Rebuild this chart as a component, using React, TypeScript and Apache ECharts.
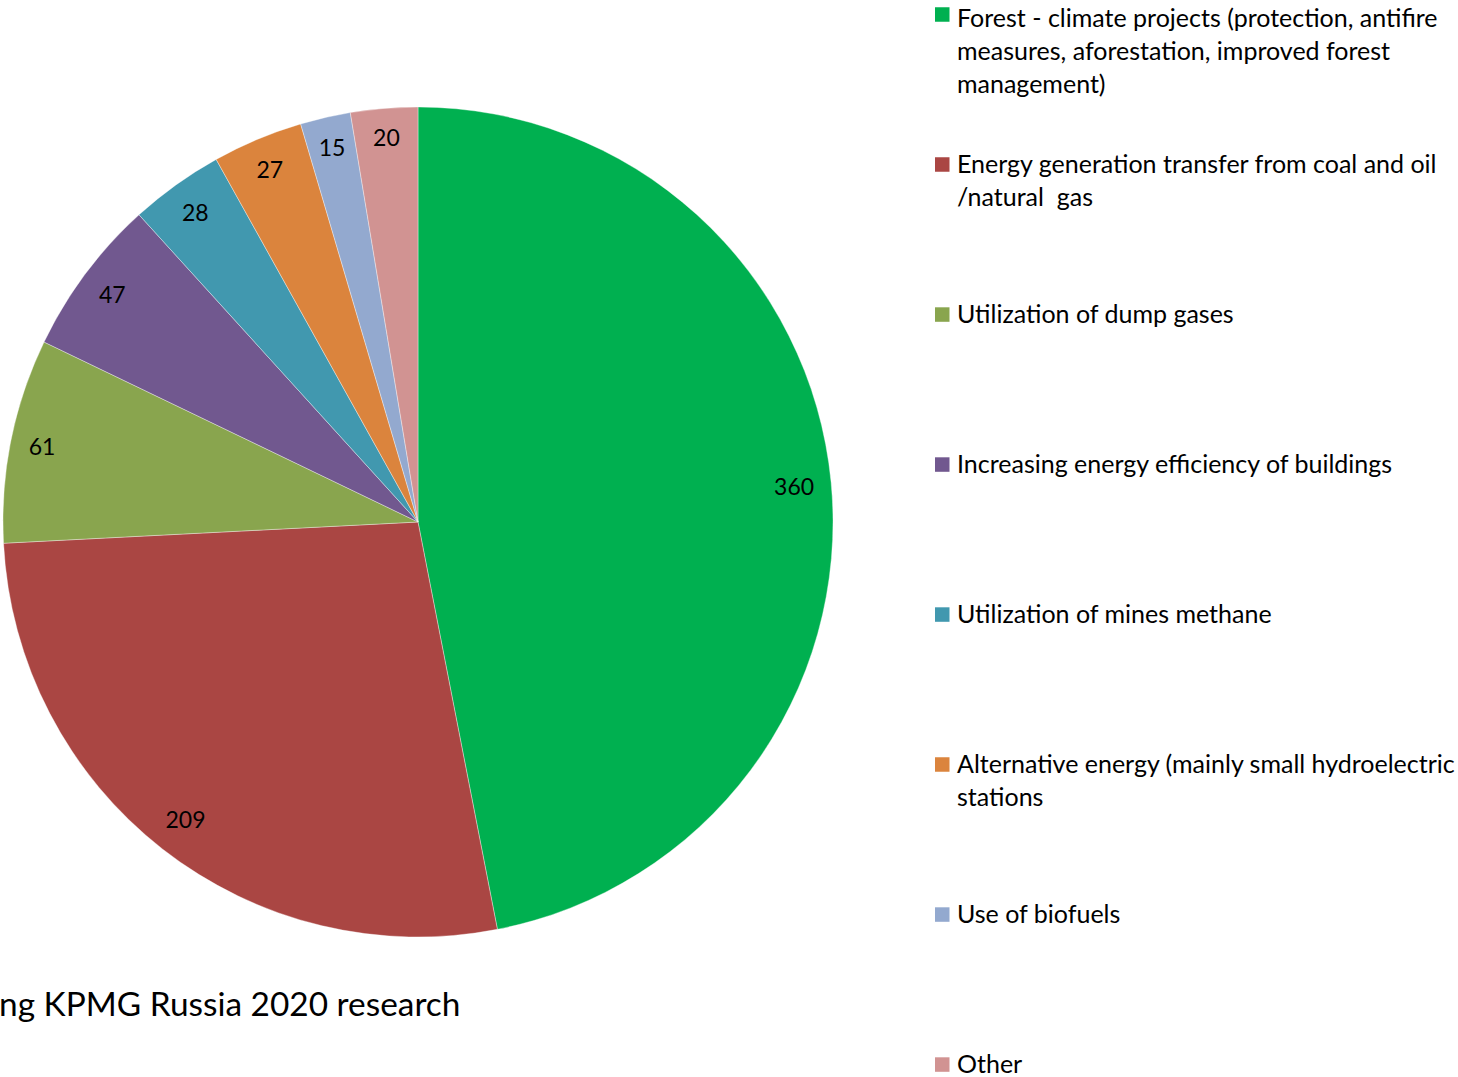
import React, { useEffect, useRef } from "react";
import * as echarts from "echarts";

const categories = [
  "Forest - climate projects (protection, antifire measures, aforestation, improved forest management)",
  "Energy generation transfer from coal and oil /natural  gas",
  "Utilization of dump gases",
  "Increasing energy efficiency of buildings",
  "Utilization of mines methane",
  "Alternative energy (mainly small hydroelectric stations",
  "Use of biofuels",
  "Other",
];

const legendLines = [
  ["Forest - climate projects (protection, antifire", "measures, aforestation, improved forest", "management)"],
  ["Energy generation transfer from coal and oil", "/natural  gas"],
  ["Utilization of dump gases"],
  ["Increasing energy efficiency of buildings"],
  ["Utilization of mines methane"],
  ["Alternative energy (mainly small hydroelectric", "stations"],
  ["Use of biofuels"],
  ["Other"],
];

const values = [360, 209, 61, 47, 28, 27, 15, 20];

const colors = ["#00B050", "#AA4643", "#89A54E", "#71588F", "#4198AF", "#DB843D", "#93A9CF", "#D19392"];

const footnote = "ng KPMG Russia 2020 research";

const FONT = "Lato, 'Noto Sans', sans-serif";
const LEGEND_FS = 25;
const LH = 33;
const SQ = 14.5;
const IW = 17;
const TEXT_UP = 1.5;
const CX = 418;
const CY = 522;
const R = 415;
const LABEL_R = 399;

export default function App() {
  const ref = useRef<HTMLDivElement>(null);

  useEffect(() => {
    if (!ref.current) return;
    const chart = echarts.init(ref.current, undefined, { renderer: "svg" });
    const data = categories.map((name, i) => ({ name, value: values[i] }));

    const total = values.reduce((a, b) => a + b, 0);
    const midAngles: number[] = [];
    let cum = 0;
    values.forEach((v) => {
      midAngles.push(((cum + v / 2) / total) * Math.PI * 2);
      cum += v;
    });

    const legends = categories.map((name, i) => {
      const n = legendLines[i].length;
      const H = n * LH;
      const iconTop = 7.3 + 150 * i;
      const sqTop = Math.min((LH - SQ) / 2 + TEXT_UP, iconTop);
      return {
        show: true,
        orient: "vertical",
        left: 935,
        top: iconTop - sqTop,
        padding: 0,
        itemWidth: IW,
        itemHeight: H,
        icon: `path://M0,0M0,${sqTop}h${SQ}v${SQ}h-${SQ}zM${IW},${H}`,
        itemStyle: { borderWidth: 0 },
        selectedMode: false,
        data: [name],
        formatter: () => legendLines[i].join("\n"),
        textStyle: {
          fontFamily: FONT,
          fontSize: LEGEND_FS,
          lineHeight: LH,
          color: "#000",
        },
      };
    });

    chart.setOption({
      animation: false,
      backgroundColor: "#fff",
      color: colors,
      legend: legends,
      series: [
        {
          type: "pie",
          center: [CX, CY],
          radius: R,
          startAngle: 90,
          clockwise: true,
          avoidLabelOverlap: false,
          silent: true,
          data,
          label: {
            show: true,
            position: "inside",
            formatter: "{c}",
            fontFamily: FONT,
            fontSize: 23,
            color: "#000",
          },
          labelLine: { show: false },
          labelLayout: (p: any) => {
            const th = midAngles[p.dataIndex];
            const w = p.labelRect.width;
            const h = p.labelRect.height;
            const s = Math.sin(th);
            const c = -Math.cos(th);
            const b = w * Math.abs(s) + h * Math.abs(c);
            const c0 = (w * w + h * h) / 4 - LABEL_R * LABEL_R;
            const r = (-b + Math.sqrt(b * b - 4 * c0)) / 2;
            return {
              x: CX + r * s,
              y: CY + r * c,
              align: "center",
              verticalAlign: "middle",
            };
          },
          itemStyle: { borderColor: "rgba(255,255,255,0.6)", borderWidth: 0.6 },
          emphasis: { disabled: true },
        },
      ],
      graphic: [
        {
          type: "text",
          x: -1,
          y: 1003,
          silent: true,
          style: {
            text: footnote,
            fontFamily: FONT,
            fontSize: 33.4,
            fill: "#000",
            align: "left",
            verticalAlign: "middle",
          },
        },
      ],
    });

    return () => chart.dispose();
  }, []);

  return (
    <div
      ref={ref}
      style={{ position: "absolute", left: 0, top: 0, width: 1458, height: 1077 }}
    />
  );
}
